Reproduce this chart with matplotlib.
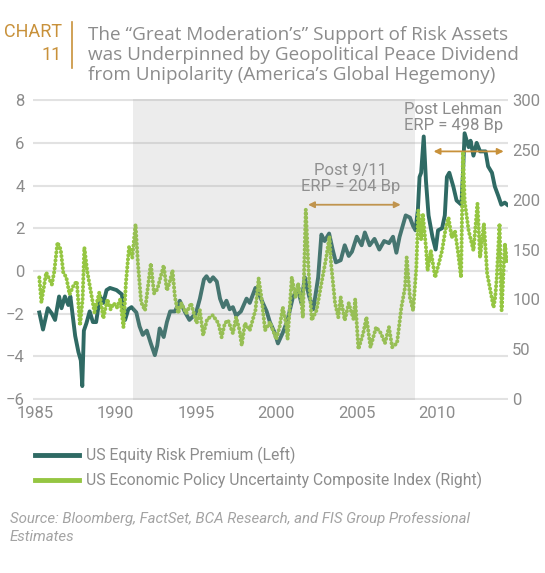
import numpy as np
import matplotlib.pyplot as plt
from matplotlib.lines import Line2D

# US equity risk premium (left axis)
erp_year = [1985.27, 1985.5, 1985.8, 1986.05, 1986.25, 1986.5, 1986.65, 1986.86, 1987.07, 1987.2,
            1987.5, 1987.7, 1987.85, 1987.94, 1988.04, 1988.2, 1988.4, 1988.6, 1988.8, 1989.04,
            1989.25, 1989.45, 1989.66, 1990.07, 1990.4, 1990.6, 1990.8, 1991.0, 1991.3, 1991.5,
            1991.7, 1991.95, 1992.2, 1992.45, 1992.6, 1992.75, 1993.0, 1993.2, 1993.4, 1993.7,
            1994.0, 1994.3, 1994.6, 1995.0, 1995.25, 1995.5, 1995.66, 1995.87, 1996.07, 1996.3,
            1996.5, 1996.7, 1996.9, 1997.1, 1997.3, 1997.5, 1997.8, 1998.15, 1998.35, 1998.7,
            1998.87, 1999.1, 1999.4, 1999.6, 1999.9, 2000.1, 2000.4, 2000.7, 2001.04, 2001.35,
            2001.55, 2001.77, 2002.04, 2002.3, 2002.6, 2002.8, 2003.0, 2003.28, 2003.5, 2003.7,
            2004.0, 2004.25, 2004.5, 2004.7, 2005.0, 2005.3, 2005.5, 2005.8, 2006.1, 2006.4,
            2006.7, 2007.0, 2007.25, 2007.46, 2007.66, 2007.87, 2008.04, 2008.3, 2008.5, 2008.65,
            2008.8, 2008.9, 2009.0, 2009.16, 2009.3, 2009.46, 2009.7, 2009.9, 2010.05, 2010.3,
            2010.47, 2010.6, 2010.75, 2011.0, 2011.2, 2011.5, 2011.6, 2011.7, 2011.95, 2012.07,
            2012.25, 2012.45, 2012.66, 2013.0, 2013.16, 2013.4, 2013.58, 2013.8, 2013.98, 2014.2,
            2014.35]
erp = [-1.95, -2.75, -1.75, -2.0, -2.3, -1.2, -1.75, -1.2, -1.6, -1.2,
       -3.05, -3.8, -4.2, -5.4, -2.8, -2.45, -1.9, -2.4, -2.4, -1.2,
       -1.5, -0.9, -0.8, -0.9, -1.1, -2.3, -1.8, -1.7, -1.95, -2.6,
       -3.0, -2.8, -3.4, -3.95, -3.5, -2.7, -3.1, -2.4, -1.9, -1.9,
       -1.4, -1.9, -2.3, -2.0, -1.3, -0.4, -0.25, -0.5, -0.3, -0.5,
       -1.3, -1.7, -1.4, -1.8, -1.7, -2.1, -1.9, -1.3, -1.5, -0.8,
       -1.0, -1.4, -1.9, -2.4, -2.9, -3.4, -2.9, -2.3, -1.2, -0.9,
       -1.5, -0.3, -1.2, -1.8, -0.3, 1.7, 1.4, 1.75, 1.0, 0.4,
       0.5, 1.2, 0.7, 0.9, 1.6, 1.2, 1.8, 1.2, 1.5, 1.0,
       1.4, 1.3, 1.6, 0.85, 1.6, 2.15, 2.6, 2.5, 2.1, 1.9,
       2.9, 4.4, 4.6, 6.3, 4.2, 2.6, 1.6, 1.0, 1.9, 2.0,
       2.6, 4.4, 4.6, 3.95, 3.3, 3.1, 4.6, 6.45, 5.8, 6.1,
       5.4, 6.0, 5.6, 5.6, 4.9, 4.6, 3.95, 3.5, 3.1, 3.2,
       3.1]

# US economic policy uncertainty index (right axis)
epu_year = [1985.27, 1985.4, 1985.55, 1985.7, 1986.05, 1986.2, 1986.4, 1986.6, 1986.76, 1986.95,
            1987.15, 1987.4, 1987.6, 1987.8, 1987.96, 1988.07, 1988.25, 1988.5, 1988.7, 1989.0,
            1989.25, 1989.5, 1989.7, 1989.9, 1990.1, 1990.3, 1990.5, 1990.65, 1990.85, 1991.05,
            1991.25, 1991.4, 1991.6, 1991.84, 1992.05, 1992.2, 1992.4, 1992.6, 1992.8, 1993.0,
            1993.2, 1993.35, 1993.55, 1993.7, 1993.9, 1994.1, 1994.4, 1994.7, 1995.05, 1995.25,
            1995.45, 1995.7, 1996.05, 1996.4, 1996.6, 1996.8, 1997.0, 1997.3, 1997.5, 1997.7,
            1997.85, 1998.05, 1998.35, 1998.7, 1998.9, 1999.1, 1999.3, 1999.6, 2000.0, 2000.2,
            2000.4, 2000.6, 2000.7, 2000.96, 2001.2, 2001.35, 2001.55, 2001.65, 2001.83, 2002.0,
            2002.2, 2002.5, 2002.8, 2003.1, 2003.3, 2003.4, 2003.65, 2003.85, 2004.0, 2004.25,
            2004.5, 2004.8, 2004.9, 2005.1, 2005.4, 2005.6, 2005.85, 2006.2, 2006.5, 2006.75,
            2007.0, 2007.2, 2007.5, 2007.77, 2008.0, 2008.1, 2008.3, 2008.5, 2008.7, 2008.82,
            2009.0, 2009.1, 2009.3, 2009.4, 2009.6, 2009.87, 2010.1, 2010.3, 2010.5, 2010.7,
            2010.9, 2011.1, 2011.3, 2011.48, 2011.6, 2011.7, 2011.95, 2012.25, 2012.5, 2012.66,
            2012.9, 2013.1, 2013.3, 2013.5, 2013.6, 2013.7, 2013.87, 2014.0, 2014.2, 2014.35]
epu = [122, 97, 112, 127, 115, 128, 157, 150, 127, 122,
       105, 114, 118, 74, 100, 152, 128, 105, 87, 107,
       81, 100, 90, 96, 92, 100, 72, 116, 153, 142,
       175, 136, 97, 89, 116, 136, 106, 110, 122, 134,
       109, 116, 129, 102, 86, 96, 86, 96, 76, 89,
       64, 80, 84, 76, 62, 76, 79, 66, 82, 70,
       54, 76, 69, 89, 121, 99, 69, 77, 60, 72,
       92, 76, 60, 122, 102, 116, 99, 82, 190, 129,
       79, 89, 116, 142, 163, 136, 96, 82, 102, 79,
       96, 80, 100, 50, 66, 82, 52, 72, 66, 56,
       72, 52, 56, 92, 112, 142, 102, 89, 132, 189,
       160, 186, 152, 129, 149, 122, 136, 149, 169, 182,
       162, 169, 146, 122, 248, 199, 169, 149, 196, 142,
       176, 126, 109, 92, 102, 122, 176, 89, 156, 136]

left_ticks = [-6, -4, -2, 0, 2, 4, 6, 8]
right_ticks = [0, 50, 100, 150, 200, 250, 300]
x_ticks = [1985, 1990, 1995, 2000, 2005, 2010]
shade = (1991.1, 2008.6)

dark = '#2f6a64'
green = '#95c642'
gray = '#8c8c8c'
orange = '#c8913a'
tickfont = 'Roboto'

fig = plt.figure(figsize=(5.45, 5.73), dpi=100)
ax = fig.add_axes([0.0606, 0.302, 0.8716, 0.525])
ax2 = ax.twinx()

ax.set_xlim(1984.88, 2014.4)
ax.set_ylim(-6.05, 8.05)
ax2.set_ylim(-1.0, 301.0)

ax.set_yticks(left_ticks)
ax2.set_yticks(right_ticks)
ax.set_xticks(x_ticks)
ax.grid(axis='y', color='#e2e2e2', lw=1.5)
ax.set_axisbelow(True)
for a in (ax, ax2):
    for s in a.spines.values():
        s.set_visible(False)
    a.tick_params(length=0, labelsize=12, labelcolor=gray)
    for lab in a.get_xticklabels() + a.get_yticklabels():
        lab.set_family(tickfont)
ax.tick_params(axis='y', pad=6)
ax.tick_params(axis='x', pad=4)
ax2.tick_params(axis='y', pad=3)

ax.plot(erp_year, erp, color=dark, lw=2.8, solid_joinstyle='round', zorder=3)
ax2.plot(epu_year, epu, color=green, lw=2.9, linestyle=(0, (0.05, 0.95)),
         dash_capstyle='round', zorder=2)
ax2.axvspan(shade[0], shade[1], ymin=0.0, ymax=1.0, color='#a3a3a3', alpha=0.2, lw=0, zorder=5)

# annotations
ax.annotate('', xy=(2001.8, 3.1), xytext=(2007.9, 3.1),
            arrowprops=dict(arrowstyle='<|-|>', color=orange, lw=1.3, mutation_scale=9))
ax.text(2004.6, 3.6, 'Post 9/11\nERP = 204 Bp', ha='center', va='bottom',
        fontsize=12, color=gray, family='Roboto', linespacing=1.1, zorder=6)
ax.annotate('', xy=(2009.6, 5.6), xytext=(2014.3, 5.6),
            arrowprops=dict(arrowstyle='<|-|>', color=orange, lw=1.3, mutation_scale=9))
ax.text(2011.0, 6.45, 'Post Lehman\nERP = 498 Bp', ha='center', va='bottom',
        fontsize=12, color=gray, family='Roboto', linespacing=1.1, zorder=6)

# title block
fig.text(62 / 545, 1 - 32 / 573, 'CHART', ha='right', va='center', fontsize=13, color=orange, family='Roboto')
fig.text(62 / 545, 1 - 55 / 573, '11', ha='right', va='center', fontsize=13, color=orange, family='Roboto')
fig.add_artist(Line2D([72 / 545, 72 / 545], [1 - 22 / 573, 1 - 68 / 573], color=orange, lw=1.2))
fig.text(88 / 545, 1 - 55 / 573,
         'The \u201cGreat Moderation\u2019s\u201d Support of Risk Assets\n'
         'was Underpinned by Geopolitical Peace Dividend\n'
         'from Unipolarity (America\u2019s Global Hegemony)',
         ha='left', va='center', fontsize=13.6, color=gray, family='Open Sans', linespacing=1.15)

# legend
handles = [Line2D([], [], color=dark, lw=3.5), Line2D([], [], color=green, lw=3.5)]
labels = ['US Equity Risk Premium (Left)', 'US Economic Policy Uncertainty Composite Index (Right)']
fig.legend(handles, labels, loc='upper left', bbox_to_anchor=(35 / 545, 1 - 447 / 573),
           frameon=False, handlelength=2.8, handletextpad=0.45, labelspacing=0.5,
           borderpad=0, borderaxespad=0,
           prop={'family': 'Roboto', 'size': 11.3}, labelcolor=gray)

fig.text(10 / 545, 1 - 528 / 573,
         'Source: Bloomberg, FactSet, BCA Research, and FIS Group Professional\nEstimates',
         ha='left', va='center', fontsize=10.8, color='#a3a3a3', style='italic',
         family='Roboto', linespacing=1.4)

fig.savefig('out.png', dpi=100)
